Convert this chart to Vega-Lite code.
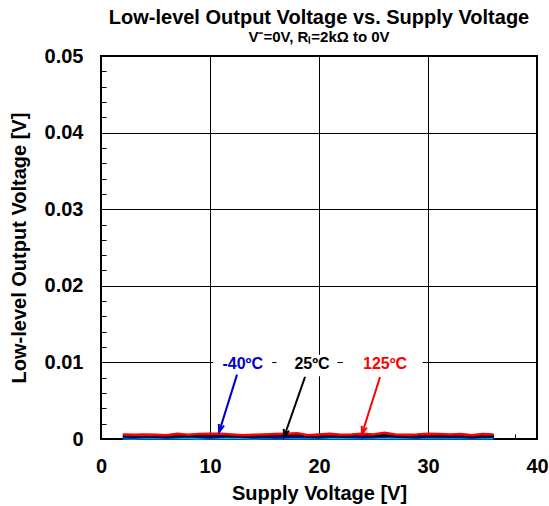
{
  "$schema": "https://vega.github.io/schema/vega-lite/v6.json",
  "width": 436,
  "height": 383,
  "autosize": "none",
  "padding": {"left": 101, "top": 56, "right": 12, "bottom": 67},
  "background": "white",
  "title": {
    "text": "Low-level Output Voltage vs. Supply Voltage",
    "subtitle": "V⁻=0V, Rₗ=2kΩ to 0V",
    "font": "Liberation Sans",
    "fontSize": 20,
    "fontWeight": "bold",
    "color": "black",
    "subtitleFont": "Liberation Sans",
    "subtitleFontSize": 15,
    "subtitleFontWeight": "bold",
    "subtitleColor": "black",
    "subtitlePadding": 2,
    "anchor": "middle",
    "frame": "group",
    "offset": 1
  },
  "config": {
    "view": {"stroke": "black", "strokeWidth": 2},
    "axis": {
      "labelFont": "Liberation Sans",
      "labelFontSize": 20,
      "labelFontWeight": "bold",
      "labelColor": "black",
      "titleFont": "Liberation Sans",
      "titleFontSize": 20,
      "titleFontWeight": "bold",
      "titleColor": "black",
      "domain": false,
      "tickColor": "black",
      "tickWidth": 1,
      "tickSize": -5,
      "tickCount": 200,
      "gridColor": "black",
      "gridWidth": 1,
      "labelOverlap": false,
      "labelFlush": false
    }
  },
  "datasets": {
    "curves": [
      {"V":2,"T":"85ºC","Vol":0.0001},{"V":3,"T":"85ºC","Vol":0.00008},{"V":4,"T":"85ºC","Vol":0.00012},{"V":5,"T":"85ºC","Vol":0.0001},{"V":6,"T":"85ºC","Vol":0.00009},{"V":7,"T":"85ºC","Vol":0.00012},{"V":8,"T":"85ºC","Vol":0.0001},{"V":9,"T":"85ºC","Vol":0.00008},{"V":10,"T":"85ºC","Vol":0.00011},{"V":11,"T":"85ºC","Vol":0.0001},{"V":12,"T":"85ºC","Vol":0.00012},{"V":13,"T":"85ºC","Vol":0.0001},{"V":14,"T":"85ºC","Vol":0.00008},{"V":15,"T":"85ºC","Vol":0.0001},{"V":16,"T":"85ºC","Vol":0.00012},{"V":17,"T":"85ºC","Vol":0.0001},{"V":18,"T":"85ºC","Vol":0.00011},{"V":19,"T":"85ºC","Vol":0.00009},{"V":20,"T":"85ºC","Vol":0.0001},{"V":21,"T":"85ºC","Vol":0.00012},{"V":22,"T":"85ºC","Vol":0.0001},{"V":23,"T":"85ºC","Vol":0.00009},{"V":24,"T":"85ºC","Vol":0.00011},{"V":25,"T":"85ºC","Vol":0.00013},{"V":26,"T":"85ºC","Vol":0.0001},{"V":27,"T":"85ºC","Vol":0.00009},{"V":28,"T":"85ºC","Vol":0.00011},{"V":29,"T":"85ºC","Vol":0.0001},{"V":30,"T":"85ºC","Vol":0.00012},{"V":31,"T":"85ºC","Vol":0.0001},{"V":32,"T":"85ºC","Vol":0.00009},{"V":33,"T":"85ºC","Vol":0.00011},{"V":34,"T":"85ºC","Vol":0.0001},{"V":35,"T":"85ºC","Vol":0.00012},{"V":36,"T":"85ºC","Vol":0.0001},
      {"V":2,"T":"-40ºC","Vol":0.00022},{"V":3,"T":"-40ºC","Vol":0.0002},{"V":4,"T":"-40ºC","Vol":0.00025},{"V":5,"T":"-40ºC","Vol":0.0003},{"V":6,"T":"-40ºC","Vol":0.0002},{"V":7,"T":"-40ºC","Vol":0.00025},{"V":8,"T":"-40ºC","Vol":0.00035},{"V":9,"T":"-40ºC","Vol":0.00025},{"V":10,"T":"-40ºC","Vol":0.0002},{"V":11,"T":"-40ºC","Vol":0.00028},{"V":12,"T":"-40ºC","Vol":0.00035},{"V":13,"T":"-40ºC","Vol":0.0003},{"V":14,"T":"-40ºC","Vol":0.0002},{"V":15,"T":"-40ºC","Vol":0.00025},{"V":16,"T":"-40ºC","Vol":0.0002},{"V":17,"T":"-40ºC","Vol":0.00022},{"V":18,"T":"-40ºC","Vol":0.0003},{"V":19,"T":"-40ºC","Vol":0.00025},{"V":20,"T":"-40ºC","Vol":0.0002},{"V":21,"T":"-40ºC","Vol":0.00028},{"V":22,"T":"-40ºC","Vol":0.0003},{"V":23,"T":"-40ºC","Vol":0.00025},{"V":24,"T":"-40ºC","Vol":0.00022},{"V":25,"T":"-40ºC","Vol":0.00025},{"V":26,"T":"-40ºC","Vol":0.00035},{"V":27,"T":"-40ºC","Vol":0.0003},{"V":28,"T":"-40ºC","Vol":0.00025},{"V":29,"T":"-40ºC","Vol":0.0002},{"V":30,"T":"-40ºC","Vol":0.00028},{"V":31,"T":"-40ºC","Vol":0.00025},{"V":32,"T":"-40ºC","Vol":0.0003},{"V":33,"T":"-40ºC","Vol":0.00025},{"V":34,"T":"-40ºC","Vol":0.0002},{"V":35,"T":"-40ºC","Vol":0.00025},{"V":36,"T":"-40ºC","Vol":0.0003},
      {"V":2,"T":"25ºC","Vol":0.00042},{"V":3,"T":"25ºC","Vol":0.0004},{"V":4,"T":"25ºC","Vol":0.00045},{"V":5,"T":"25ºC","Vol":0.0004},{"V":6,"T":"25ºC","Vol":0.00038},{"V":7,"T":"25ºC","Vol":0.00045},{"V":8,"T":"25ºC","Vol":0.0004},{"V":9,"T":"25ºC","Vol":0.00042},{"V":10,"T":"25ºC","Vol":0.00048},{"V":11,"T":"25ºC","Vol":0.00045},{"V":12,"T":"25ºC","Vol":0.0004},{"V":13,"T":"25ºC","Vol":0.00038},{"V":14,"T":"25ºC","Vol":0.0004},{"V":15,"T":"25ºC","Vol":0.00042},{"V":16,"T":"25ºC","Vol":0.00045},{"V":17,"T":"25ºC","Vol":0.0005},{"V":18,"T":"25ºC","Vol":0.00048},{"V":19,"T":"25ºC","Vol":0.0004},{"V":20,"T":"25ºC","Vol":0.00042},{"V":21,"T":"25ºC","Vol":0.00045},{"V":22,"T":"25ºC","Vol":0.0004},{"V":23,"T":"25ºC","Vol":0.00042},{"V":24,"T":"25ºC","Vol":0.00048},{"V":25,"T":"25ºC","Vol":0.00042},{"V":26,"T":"25ºC","Vol":0.0005},{"V":27,"T":"25ºC","Vol":0.00042},{"V":28,"T":"25ºC","Vol":0.0004},{"V":29,"T":"25ºC","Vol":0.00042},{"V":30,"T":"25ºC","Vol":0.00045},{"V":31,"T":"25ºC","Vol":0.00042},{"V":32,"T":"25ºC","Vol":0.0004},{"V":33,"T":"25ºC","Vol":0.00045},{"V":34,"T":"25ºC","Vol":0.0004},{"V":35,"T":"25ºC","Vol":0.00042},{"V":36,"T":"25ºC","Vol":0.0004},
      {"V":2,"T":"125ºC","Vol":0.0006},{"V":3,"T":"125ºC","Vol":0.00055},{"V":4,"T":"125ºC","Vol":0.0006},{"V":5,"T":"125ºC","Vol":0.00055},{"V":6,"T":"125ºC","Vol":0.0005},{"V":7,"T":"125ºC","Vol":0.0007},{"V":8,"T":"125ºC","Vol":0.00055},{"V":9,"T":"125ºC","Vol":0.00065},{"V":10,"T":"125ºC","Vol":0.0007},{"V":11,"T":"125ºC","Vol":0.0007},{"V":12,"T":"125ºC","Vol":0.0006},{"V":13,"T":"125ºC","Vol":0.0005},{"V":14,"T":"125ºC","Vol":0.00055},{"V":15,"T":"125ºC","Vol":0.0006},{"V":16,"T":"125ºC","Vol":0.00065},{"V":17,"T":"125ºC","Vol":0.0007},{"V":18,"T":"125ºC","Vol":0.00075},{"V":19,"T":"125ºC","Vol":0.0005},{"V":20,"T":"125ºC","Vol":0.0006},{"V":21,"T":"125ºC","Vol":0.0007},{"V":22,"T":"125ºC","Vol":0.00055},{"V":23,"T":"125ºC","Vol":0.0006},{"V":24,"T":"125ºC","Vol":0.0007},{"V":25,"T":"125ºC","Vol":0.0006},{"V":26,"T":"125ºC","Vol":0.0008},{"V":27,"T":"125ºC","Vol":0.0006},{"V":28,"T":"125ºC","Vol":0.00055},{"V":29,"T":"125ºC","Vol":0.0006},{"V":30,"T":"125ºC","Vol":0.0007},{"V":31,"T":"125ºC","Vol":0.00065},{"V":32,"T":"125ºC","Vol":0.0006},{"V":33,"T":"125ºC","Vol":0.00065},{"V":34,"T":"125ºC","Vol":0.0005},{"V":35,"T":"125ºC","Vol":0.00065},{"V":36,"T":"125ºC","Vol":0.0006}
    ],
    "notes": [
      {"T":"-40ºC","tx":13.0,"ty":0.0098,"bx1":10.3,"bx2":15.7,"by1":0.0082,"by2":0.011,"ax1":12.48,"ay1":0.0084,"ax2":10.83,"ay2":0.0009},
      {"T":"25ºC","tx":19.36,"ty":0.0098,"bx1":16.1,"bx2":21.7,"by1":0.0082,"by2":0.011,"ax1":18.72,"ay1":0.0081,"ax2":16.79,"ay2":0.00026},
      {"T":"125ºC","tx":26.06,"ty":0.0098,"bx1":22.2,"bx2":29.5,"by1":0.0082,"by2":0.011,"ax1":25.6,"ay1":0.0081,"ax2":23.94,"ay2":0.00065}
    ]
  },
  "layer": [
    {
      "data": {"name": "curves"},
      "mark": {"type": "line", "strokeWidth": 2.5},
      "encoding": {
        "x": {
          "field": "V", "type": "quantitative",
          "scale": {"domain": [0, 40], "nice": false},
          "axis": {
            "title": "Supply Voltage [V]",
            "values": [0,2,4,6,8,10,12,14,16,18,20,22,24,26,28,30,32,34,36,38,40],
            "labelExpr": "datum.value % 10 === 0 ? format(datum.value, 'd') : ''",
            "gridOpacity": {"condition": {"test": "datum.value % 10 === 0", "value": 1}, "value": 0},
            "labelPadding": 22,
            "titlePadding": 7
          }
        },
        "y": {
          "field": "Vol", "type": "quantitative",
          "scale": {"domain": [0, 0.05], "nice": false},
          "axis": {
            "title": "Low-level Output Voltage [V]",
            "values": [0,0.002,0.004,0.006,0.008,0.01,0.012,0.014,0.016,0.018,0.02,0.022,0.024,0.026,0.028,0.03,0.032,0.034,0.036,0.038,0.04,0.042,0.044,0.046,0.048,0.05],
            "labelExpr": "abs(datum.value*100 - round(datum.value*100)) < 0.001 ? (datum.value === 0 ? '0' : format(datum.value, '.2f')) : ''",
            "gridOpacity": {"condition": {"test": "abs(datum.value*100 - round(datum.value*100)) < 0.001", "value": 1}, "value": 0},
            "labelPadding": 23,
            "titlePadding": 15
          }
        },
        "color": {
          "field": "T", "type": "nominal",
          "scale": {"domain": ["85ºC", "-40ºC", "25ºC", "125ºC"], "range": ["#00b0f0", "#0000cc", "#000000", "#ff0000"]},
          "legend": null
        },
        "order": {"field": "V"}
      }
    },
    {
      "data": {"name": "notes"},
      "mark": {"type": "rect", "fill": "white"},
      "encoding": {
        "x": {"field": "bx1", "type": "quantitative"},
        "x2": {"field": "bx2"},
        "y": {"field": "by1", "type": "quantitative"},
        "y2": {"field": "by2"}
      }
    },
    {
      "data": {"name": "notes"},
      "mark": {"type": "text", "font": "Liberation Sans", "fontSize": 16, "fontWeight": "bold", "baseline": "middle", "align": "center"},
      "encoding": {
        "x": {"field": "tx", "type": "quantitative"},
        "y": {"field": "ty", "type": "quantitative"},
        "text": {"field": "T"},
        "color": {"field": "T", "type": "nominal", "legend": null}
      }
    },
    {
      "data": {"name": "notes"},
      "mark": {"type": "rule", "strokeWidth": 2},
      "encoding": {
        "x": {"field": "ax1", "type": "quantitative"},
        "y": {"field": "ay1", "type": "quantitative"},
        "x2": {"field": "ax2"},
        "y2": {"field": "ay2"},
        "color": {"field": "T", "type": "nominal", "legend": null}
      }
    },
    {
      "data": {"name": "notes"},
      "mark": {"type": "point", "shape": "M-0.5,-1.4L0,0L0.5,-1.4", "filled": false, "strokeWidth": 2, "size": 120, "angle": 18, "opacity": 1},
      "encoding": {
        "x": {"field": "ax2", "type": "quantitative"},
        "y": {"field": "ay2", "type": "quantitative"},
        "color": {"field": "T", "type": "nominal", "legend": null}
      }
    }
  ]
}
